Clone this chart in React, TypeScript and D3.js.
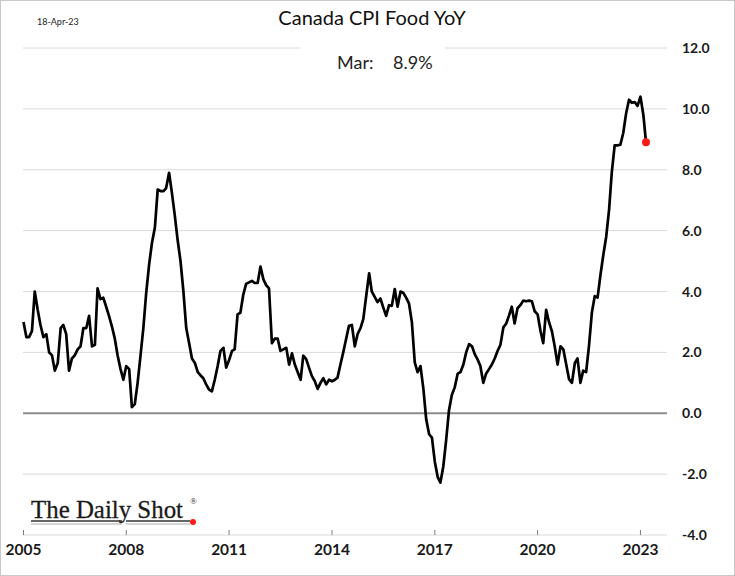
import React from 'react';
import * as d3 from 'd3';

// Canada CPI Food, year-over-year %, monthly from Jan 2005 to Mar 2023
const values2005 = [3.0, 2.5, 2.5, 2.7, 4.0, 3.4, 2.9, 2.5, 2.6, 2.0, 1.9, 1.4];
const values2006 = [1.65, 2.8, 2.9, 2.6, 1.4, 1.8, 1.9, 2.1, 2.2, 2.8, 2.8, 3.2];
const values2007 = [2.2, 2.25, 4.1, 3.75, 3.8, 3.5, 3.2, 2.85, 2.45, 1.9, 1.45, 1.1];
const values2008 = [1.55, 1.45, 0.2, 0.3, 1.0, 1.9, 2.8, 3.97, 4.9, 5.6, 6.1, 7.35];
const values2009 = [7.3, 7.3, 7.4, 7.9, 7.25, 6.5, 5.7, 5.0, 4.0, 2.8, 2.3, 1.8];
const values2010 = [1.65, 1.35, 1.25, 1.15, 0.95, 0.78, 0.72, 1.1, 1.55, 2.05, 2.15, 1.5];
const values2011 = [1.75, 2.05, 2.1, 3.25, 3.3, 3.9, 4.25, 4.3, 4.35, 4.28, 4.28, 4.82];
const values2012 = [4.4, 4.2, 4.1, 2.3, 2.45, 2.45, 2.05, 2.1, 2.15, 1.6, 1.97, 1.6];
const values2013 = [1.35, 1.1, 1.89, 1.78, 1.5, 1.22, 1.06, 0.8, 1.0, 1.15, 0.95, 1.1];
const values2014 = [1.05, 1.1, 1.17, 1.6, 2.0, 2.45, 2.87, 2.9, 2.2, 2.6, 2.8, 3.1];
const values2015 = [3.86, 4.6, 4.0, 3.82, 3.65, 3.77, 3.48, 3.2, 3.55, 3.53, 4.08, 3.5];
const values2016 = [4.0, 3.95, 3.8, 3.6, 3.0, 1.67, 1.35, 1.55, 0.8, -0.2, -0.69, -0.8];
const values2017 = [-1.6, -2.1, -2.28, -1.75, -0.9, 0.1, 0.6, 0.85, 1.3, 1.35, 1.6, 2.0];
const values2018 = [2.27, 2.2, 1.95, 1.77, 1.55, 1.0, 1.3, 1.45, 1.6, 1.8, 2.05, 2.25];
const values2019 = [2.82, 2.95, 3.2, 3.5, 2.95, 3.45, 3.55, 3.7, 3.68, 3.7, 3.68, 3.35];
const values2020 = [3.25, 2.7, 2.3, 3.4, 3.0, 2.7, 2.2, 1.6, 2.2, 2.1, 1.6, 1.12];
const values2021 = [1.0, 1.65, 1.8, 1.0, 1.4, 1.35, 2.2, 3.3, 3.85, 3.8, 4.55, 5.2];
const values2022 = [5.8, 6.7, 7.9, 8.8, 8.8, 8.82, 9.2, 9.85, 10.3, 10.2, 10.22, 10.1];
const values2023 = [10.4, 9.8, 8.9];

const yTicks = [12, 10, 8, 6, 4, 2, 0, -2, -4];
const xTickYears = [2005, 2008, 2011, 2014, 2017, 2020, 2023];

const title = 'Canada CPI Food YoY';
const dateStamp = '18-Apr-23';
const lastLabelMonth = 'Mar:';
const lastLabelValue = '8.9%';

const allValues = [
  ...values2005, ...values2006, ...values2007, ...values2008, ...values2009,
  ...values2010, ...values2011, ...values2012, ...values2013, ...values2014,
  ...values2015, ...values2016, ...values2017, ...values2018, ...values2019,
  ...values2020, ...values2021, ...values2022, ...values2023,
];
const data = allValues.map((v, i) => ({ date: new Date(2005, i, 1), value: v }));

export default function App() {
  const W = 735;
  const H = 576;
  const x = d3
    .scaleTime()
    .domain([new Date(2005, 0, 1), new Date(2023, 2, 1)])
    .range([23.5, 646]);
  const y = d3.scaleLinear().domain([-4, 12]).range([535, 48]);
  const line = d3
    .line<{ date: Date; value: number }>()
    .x((d) => x(d.date))
    .y((d) => y(d.value));

  const gx0 = 23;
  const gx1 = 667;
  const last = data[data.length - 1];
  const font = 'Lato, "Open Sans", sans-serif';

  return (
    <svg
      width={W}
      height={H}
      style={{ position: 'absolute', left: 0, top: 0, background: '#fff' }}
    >
      <rect x={0.5} y={0.5} width={W - 1} height={H - 1} fill="#fff" stroke="#c8c8c8" />

      {/* gridlines */}
      {yTicks.map((t) => (
        <line
          key={t}
          x1={gx0}
          x2={gx1}
          y1={y(t)}
          y2={y(t)}
          stroke={t === 0 ? '#8c8c8c' : '#dadada'}
          strokeWidth={t === 0 ? 2 : 1}
        />
      ))}
      {/* break in top gridline behind the label */}
      <rect x={300} y={42} width={145} height={12} fill="#fff" />

      {/* x axis ticks */}
      {xTickYears.map((yr) => (
        <line
          key={yr}
          x1={x(new Date(yr, 0, 1))}
          x2={x(new Date(yr, 0, 1))}
          y1={530}
          y2={535}
          stroke="#7f7f7f"
          strokeWidth={1}
        />
      ))}
      {xTickYears.map((yr) => (
        <text
          key={'l' + yr}
          x={x(new Date(yr, 0, 1))}
          y={555}
          textAnchor="middle"
          fontFamily={font}
          fontWeight={700}
          fontSize={15.5}
          fill="#1a1a1a"
        >
          {yr}
        </text>
      ))}

      {/* y labels */}
      {yTicks.map((t) => (
        <text
          key={'y' + t}
          x={682}
          y={y(t) + 5}
          fontFamily={font}
          fontWeight={700}
          fontSize={14}
          fill="#1a1a1a"
        >
          {t.toFixed(1)}
        </text>
      ))}

      {/* series */}
      <path
        d={line(data) || ''}
        fill="none"
        stroke="#000"
        strokeWidth={2.7}
        strokeLinejoin="round"
      />
      <circle cx={x(last.date)} cy={y(last.value)} r={4} fill="#ff1a1a" />

      {/* titles */}
      <text x={372} y={25} textAnchor="middle" fontFamily={font} fontSize={20} fill="#111">
        {title}
      </text>
      <text x={37} y={25} fontFamily={font} fontSize={9} fill="#222">
        {dateStamp}
      </text>
      <text x={337} y={69} fontFamily={font} fontSize={18} fill="#222">
        {lastLabelMonth}
      </text>
      <text x={393} y={69} fontFamily={font} fontSize={18} fill="#222">
        {lastLabelValue}
      </text>

      {/* logo */}
      <text
        x={31}
        y={518}
        fontFamily='"Liberation Serif", "DejaVu Serif", serif'
        fontSize={26}
        textLength={152}
        lengthAdjust="spacingAndGlyphs"
        fill="#1a1a1a"
        stroke="#1a1a1a"
        strokeWidth={0.3}
      >
        The Daily Shot
      </text>
      <text x={190} y={504} fontFamily='"Liberation Serif", serif' fontSize={9} fill="#222">
        ®
      </text>
      <line x1={31} x2={122} y1={521} y2={521} stroke="#333" strokeWidth={1.5} />
      <line x1={126} x2={190} y1={521} y2={521} stroke="#333" strokeWidth={1.5} />
      <line x1={31} x2={122} y1={524} y2={524} stroke="#aaa" strokeWidth={1} />
      <line x1={126} x2={190} y1={524} y2={524} stroke="#aaa" strokeWidth={1} />
      <circle cx={193} cy={522} r={3} fill="#ff1a1a" />
    </svg>
  );
}
